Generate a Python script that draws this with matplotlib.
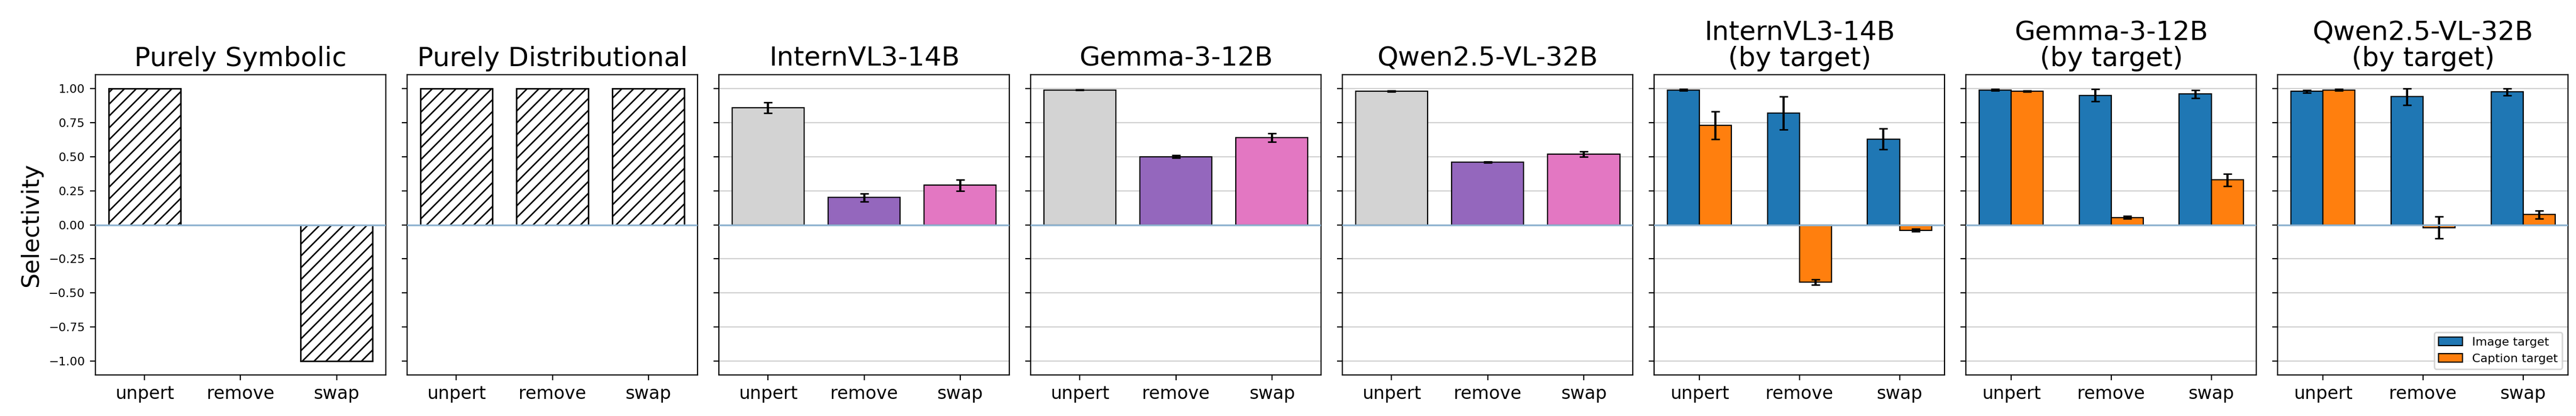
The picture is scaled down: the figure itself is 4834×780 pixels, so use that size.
import matplotlib
matplotlib.use("Agg")
import matplotlib.pyplot as plt
import numpy as np

conds = ["unpert", "remove", "swap"]
sym_vals = [1.0, 0.0, -1.0]
dist_vals = [1.0, 1.0, 1.0]

models = ["InternVL3-14B", "Gemma-3-12B", "Qwen2.5-VL-32B"]
agg_vals = [[0.86, 0.20, 0.29], [0.99, 0.50, 0.64], [0.98, 0.46, 0.52]]
agg_errs = [[0.04, 0.03, 0.04], [0.003, 0.01, 0.03], [0.005, 0.005, 0.02]]

img_vals = [[0.99, 0.82, 0.63], [0.99, 0.95, 0.96], [0.98, 0.94, 0.975]]
img_errs = [[0.005, 0.12, 0.075], [0.005, 0.045, 0.03], [0.01, 0.06, 0.025]]
cap_vals = [[0.73, -0.42, -0.04], [0.98, 0.055, 0.33], [0.99, -0.02, 0.075]]
cap_errs = [[0.10, 0.02, 0.01], [0.005, 0.01, 0.045], [0.005, 0.08, 0.03]]

fig, axes = plt.subplots(1, 8, figsize=(24.17, 3.9), dpi=200, sharey=True)
fig.subplots_adjust(left=0.037, right=0.997, top=0.82, bottom=0.099, wspace=0.073)
x = np.arange(3)
zero_kw = dict(color="#8fb3d0", lw=1.2, zorder=3)

ax = axes[0]
ax.bar(x, sym_vals, width=0.75, color="white", edgecolor="black", hatch="///", lw=1)
ax.set_title("Purely Symbolic", fontsize=18)
ax.set_ylabel("Selectivity", fontsize=16)
ax = axes[1]
ax.bar(x, dist_vals, width=0.75, color="white", edgecolor="black", hatch="///", lw=1)
ax.set_title("Purely Distributional", fontsize=18)

cols = ["lightgray", "#9467bd", "#e377c2"]
for i, m in enumerate(models):
    ax = axes[2 + i]
    ax.bar(x, agg_vals[i], yerr=agg_errs[i], width=0.75, color=cols, edgecolor="black",
           lw=0.8, capsize=3, zorder=2)
    ax.set_title(m, fontsize=18)
    ax.grid(axis="y", color="#d0d0d0", lw=0.8, zorder=0)

w = 0.32
for i, m in enumerate(models):
    ax = axes[5 + i]
    ax.bar(x - w / 2, img_vals[i], w, yerr=img_errs[i], color="#1f77b4", edgecolor="black",
           lw=0.8, capsize=3, label="Image target", zorder=2)
    ax.bar(x + w / 2, cap_vals[i], w, yerr=cap_errs[i], color="#ff7f0e", edgecolor="black",
           lw=0.8, capsize=3, label="Caption target", zorder=2)
    ax.set_title(m + "\n(by target)", fontsize=18, linespacing=1.0)
    ax.grid(axis="y", color="#d0d0d0", lw=0.8, zorder=0)
axes[7].legend(loc="lower right", fontsize=8)

for ax in axes:
    ax.axhline(0, **zero_kw)
    ax.set_xticks(x)
    ax.set_xticklabels(conds, fontsize=12)
    ax.set_axisbelow(True)
    ax.set_ylim(-1.1, 1.1)
    ax.set_yticks(np.arange(-1, 1.01, 0.25))
    ax.tick_params(axis="y", labelsize=8)
fig.savefig("out.png")
